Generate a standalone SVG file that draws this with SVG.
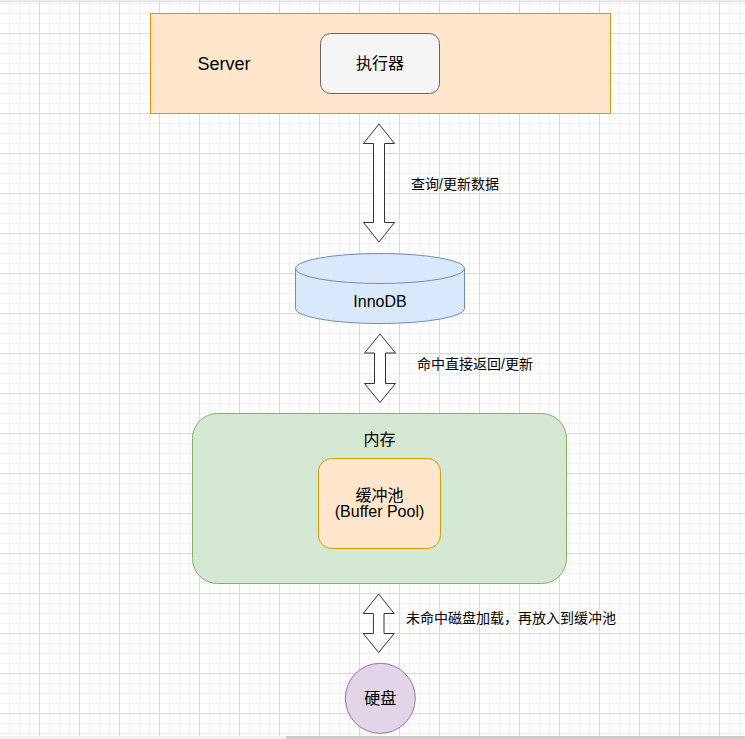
<svg xmlns="http://www.w3.org/2000/svg" width="745" height="739" viewBox="0 0 745 739">
<defs>
<pattern id="grid" x="-1" y="-7" width="40" height="40" patternUnits="userSpaceOnUse">
<path d="M10.5 0V40M20.5 0V40M30.5 0V40M0 10.5H40M0 20.5H40M0 30.5H40" stroke="#f2f2f2" stroke-width="1" fill="none"/>
<path d="M0.5 0V40M0 0.5H40" stroke="#d9d9d9" stroke-width="1" fill="none"/>
</pattern>
</defs>
<style>
text{font-family:"Liberation Sans","Noto Sans CJK SC",sans-serif;fill:#000}
.c{text-anchor:middle}
.m{dominant-baseline:central}
.l{font-size:14px}
.n{font-size:16px}
.arrow{fill:#fff;stroke:#333;stroke-width:1}
</style>
<rect width="745" height="739" fill="#fff"/>
<rect width="745" height="739" fill="url(#grid)"/>
<rect x="0" y="0.5" width="745" height="1.5" fill="#e0e0e0"/>
<rect x="0" y="736" width="286" height="3" fill="#f0f0f0"/>
<rect x="286" y="736" width="459" height="3" fill="#cdcdcd"/>

<g id="server">
<rect x="150.5" y="13.5" width="460" height="100" fill="#ffe6cc" stroke="#d79b00"/>
<text x="224" y="70" class="c" font-size="18">Server</text>
</g>
<g id="executor">
<rect x="320.5" y="33.5" width="119" height="60" rx="10" fill="#f5f5f5" stroke="#666"/>
<text x="380" y="63.5" class="c m n">执行器</text>
</g>
<g id="innodb">
<path d="M295.5 268.5 A84.5 15 0 0 1 464.5 268.5 V308.5 A84.5 15 0 0 1 295.5 308.5 Z" fill="#dae8fc" stroke="#6c8ebf"/>
<path d="M295.5 268.5 A84.5 15 0 0 0 464.5 268.5" fill="none" stroke="#6c8ebf"/>
<text x="380" y="307" class="c n">InnoDB</text>
</g>
<g id="memory">
<rect x="192.5" y="413.5" width="374" height="170" rx="25" fill="#d5e8d4" stroke="#82b366"/>
<text x="379.5" y="439" class="c m n">内存</text>
</g>
<g id="bufferpool">
<rect x="318.5" y="458.5" width="122" height="90" rx="13" fill="#ffe6cc" stroke="#d79b00"/>
<text x="379.5" y="495" class="c m n">缓冲池</text>
<text x="379.5" y="517" class="c n">(Buffer Pool)</text>
</g>
<g id="disk">
<circle cx="380.3" cy="698.3" r="35" fill="#e1d5e7" stroke="#9673a6"/>
<text x="380.3" y="698.5" class="c m n">硬盘</text>
</g>

<g id="connectors">
<path class="arrow" d="M379 124 L394.5 143.5 L384.5 143.5 L384.5 222.5 L394.5 222.5 L379 242 L363.5 222.5 L373.5 222.5 L373.5 143.5 L363.5 143.5 Z"/>
<text x="411" y="183.5" class="m l">查询/更新数据</text>
<path class="arrow" d="M380 334 L395.5 353 L385.5 353 L385.5 383.5 L395.5 383.5 L380 402.5 L364.5 383.5 L374.5 383.5 L374.5 353 L364.5 353 Z"/>
<text x="417" y="363.5" class="m l">命中直接返回/更新</text>
<path class="arrow" d="M378.7 594 L394.2 613.5 L384 613.5 L384 633.5 L394.2 633.5 L378.7 652.5 L363.2 633.5 L373.4 633.5 L373.4 613.5 L363.2 613.5 Z"/>
<text x="406" y="618" class="m l">未命中磁盘加载，再放入到缓冲池</text>
</g>
</svg>
